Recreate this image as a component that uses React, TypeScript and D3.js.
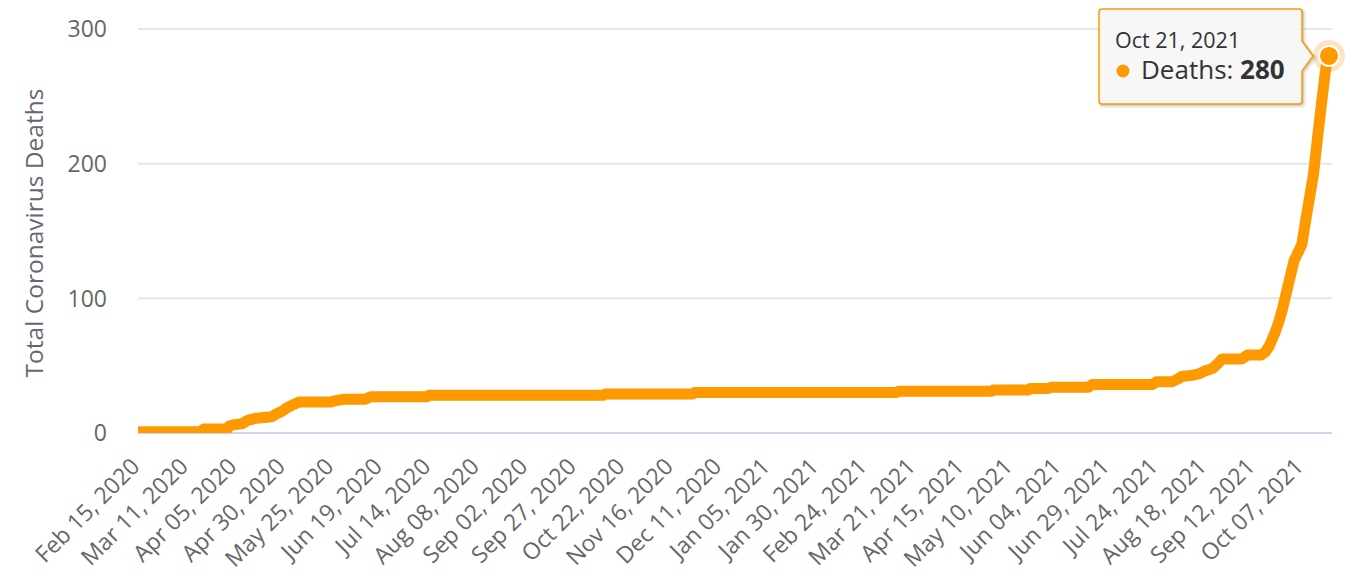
import React from "react";
import * as d3 from "d3";

// ---- data ----
const startDate = "2020-02-15";
const endDate = "2021-10-21";

const tickLabels = [
  "Feb 15, 2020", "Mar 11, 2020", "Apr 05, 2020", "Apr 30, 2020", "May 25, 2020",
  "Jun 19, 2020", "Jul 14, 2020", "Aug 08, 2020", "Sep 02, 2020", "Sep 27, 2020",
  "Oct 22, 2020", "Nov 16, 2020", "Dec 11, 2020", "Jan 05, 2021", "Jan 30, 2021",
  "Feb 24, 2021", "Mar 21, 2021", "Apr 15, 2021", "May 10, 2021", "Jun 04, 2021",
  "Jun 29, 2021", "Jul 24, 2021", "Aug 18, 2021", "Sep 12, 2021", "Oct 07, 2021",
];

const yTicks = [0, 100, 200, 300];

// dates at which the cumulative curve bends, and the totals there
const pointDates = [
  "2020-02-15", "2020-03-18", "2020-03-19", "2020-03-20", "2020-04-01", "2020-04-02",
  "2020-04-04", "2020-04-09", "2020-04-11", "2020-04-13", "2020-04-16", "2020-04-24",
  "2020-04-26", "2020-04-29", "2020-05-02", "2020-05-05", "2020-05-08", "2020-05-24",
  "2020-05-27", "2020-05-31", "2020-06-11", "2020-06-14", "2020-07-13", "2020-07-14",
  "2020-10-12", "2020-10-13", "2020-11-27", "2020-11-28", "2021-03-12", "2021-03-13",
  "2021-04-30", "2021-05-01", "2021-05-19", "2021-05-20", "2021-05-29", "2021-05-31",
  "2021-06-19", "2021-06-21", "2021-07-22", "2021-07-24", "2021-08-01", "2021-08-04",
  "2021-08-06", "2021-08-12", "2021-08-15", "2021-08-18", "2021-08-22", "2021-08-25",
  "2021-08-27", "2021-09-06", "2021-09-09", "2021-09-16", "2021-09-18", "2021-09-20",
  "2021-09-23", "2021-09-25", "2021-09-27", "2021-09-29", "2021-10-01", "2021-10-03",
  "2021-10-05", "2021-10-07", "2021-10-09", "2021-10-11", "2021-10-13", "2021-10-15",
  "2021-10-17", "2021-10-19", "2021-10-20", "2021-10-21",
];
const pointDeaths = [
  1, 1, 2, 3, 3, 5,
  6, 7, 9, 10, 11, 12,
  14, 16, 19, 21, 23, 23,
  24, 25, 25, 27, 27, 28,
  28, 29, 29, 30, 30, 31,
  31, 32, 32, 33, 33, 34,
  34, 36, 36, 38, 38, 40,
  42, 43, 44, 46, 48, 52,
  55, 55, 58, 58, 60, 64,
  74, 82, 92, 104, 116, 128,
  134, 140, 158, 175, 192, 218,
  243, 267, 276, 280,
];

const tooltipDate = "Oct 21, 2021";
const tooltipValue = 280;

const W = 1359;
const H = 579;
const left = 138;
const right = 1332;
const top = 29;
const bottom = 433;
const orange = "#ff9900";
const font = "'Open Sans', 'Noto Sans', sans-serif";

export default function App() {
  const parseIso = d3.timeParse("%Y-%m-%d");
  const parseLabel = d3.timeParse("%b %d, %Y");
  const x = d3
    .scaleTime()
    .domain([parseIso(startDate)!, parseIso(endDate)!])
    .range([left, 1329]);
  const y = d3.scaleLinear().domain([0, 300]).range([bottom, top]);

  const pts = pointDates.map((d, i) => [x(parseIso(d)!), y(pointDeaths[i])] as [number, number]);
  const path = d3.line()(pts) || "";
  const last = pts[pts.length - 1];

  // tooltip geometry
  const tx = 1099, ty = 9, tw = 203, th = 95;
  const tipX = last[0] - 16;
  const tipY = last[1];
  const callout = `M${tx + 3},${ty} H${tx + tw - 3} Q${tx + tw},${ty} ${tx + tw},${ty + 3} V${tipY - 15} L${tipX},${tipY} L${tx + tw},${tipY + 15} V${ty + th - 3} Q${tx + tw},${ty + th} ${tx + tw - 3},${ty + th} H${tx + 3} Q${tx},${ty + th} ${tx},${ty + th - 3} V${ty + 3} Q${tx},${ty} ${tx + 3},${ty} Z`;

  return (
    <svg
      width={W}
      height={H}
      style={{ position: "absolute", left: 0, top: 0, background: "#fff" }}
      fontFamily={font}
    >
      <defs>
        <clipPath id="plot">
          <rect x={left} y={top - 10} width={right - left} height={bottom - top + 10} />
        </clipPath>
      </defs>
      {/* grid */}
      {yTicks.filter((t) => t > 0).map((t) => (
        <line key={t} x1={left} x2={right} y1={y(t)} y2={y(t)} stroke="#e6e6e6" strokeWidth={2} />
      ))}
      {/* y labels */}
      {yTicks.map((t) => (
        <text
          key={t}
          x={107}
          y={y(t)}
          dy="0.36em"
          textAnchor="end"
          fontSize={23}
          fill="#666666"
        >
          {t}
        </text>
      ))}
      <text
        transform={`translate(43,${(top + bottom) / 2 + 2}) rotate(-90)`}
        textAnchor="middle"
        fontSize={24.5}
        fill="#6e6470"
      >
        Total Coronavirus Deaths
      </text>
      {/* x axis line */}
      <line x1={left} x2={right} y1={bottom} y2={bottom} stroke="#ccd6eb" strokeWidth={2} />
      {/* x labels */}
      {tickLabels.map((l) => {
        const px = x(parseLabel(l)!);
        return (
          <text
            key={l}
            transform={`translate(${px + 3},${bottom + 35}) rotate(-45)`}
            textAnchor="end"
            fontSize={23}
            fill="#666666"
          >
            {l}
          </text>
        );
      })}
      {/* series */}
      <path
        d={path}
        fill="none"
        stroke={orange}
        strokeWidth={11}
        strokeLinejoin="round"
        strokeLinecap="round"
        clipPath="url(#plot)"
      />
      {/* hovered marker */}
      <circle cx={last[0]} cy={last[1]} r={16} fill={orange} opacity={0.25} />
      <circle cx={last[0]} cy={last[1]} r={10} fill={orange} stroke="#fff" strokeWidth={2} />
      {/* tooltip */}
      <path d={callout} transform="translate(2,2)" fill="none" stroke="#000" strokeOpacity={0.08} strokeWidth={4} />
      <path d={callout} transform="translate(1,1)" fill="none" stroke="#000" strokeOpacity={0.12} strokeWidth={2} />
      <path d={callout} fill="#f7f7f7" fillOpacity={0.95} stroke={orange} strokeWidth={1.5} />
      <text x={1115} y={48} fontSize={21.5} fill="#333333">
        {tooltipDate}
      </text>
      <circle cx={1123} cy={71} r={6.5} fill={orange} />
      <text x={1141} y={79} fontSize={26} fill="#333333">
        Deaths: <tspan fontWeight="bold">{tooltipValue}</tspan>
      </text>
    </svg>
  );
}
